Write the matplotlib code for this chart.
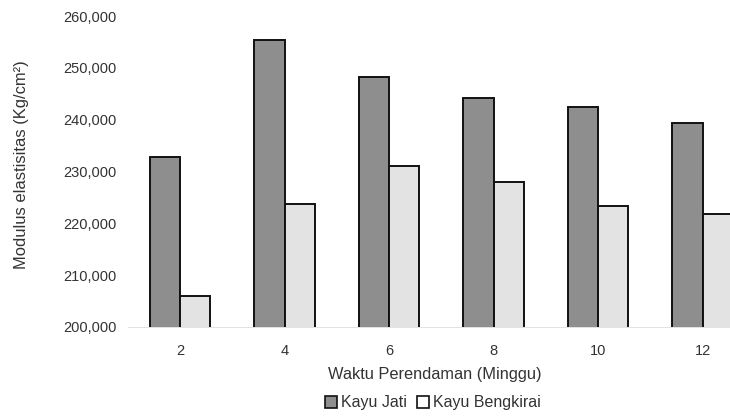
import matplotlib
matplotlib.use("Agg")
import matplotlib.pyplot as plt
import numpy as np
from matplotlib.patches import Patch

plt.rcParams['font.family'] = ['Liberation Sans', 'DejaVu Sans']

weeks = ["2", "4", "6", "8", "10", "12"]
kayu_jati = [232800, 255400, 248300, 244100, 242500, 239300]
kayu_bengkirai = [206000, 223700, 231100, 228000, 223400, 221800]
y_ticks = [200000, 210000, 220000, 230000, 240000, 250000, 260000]

fig = plt.figure(figsize=(7.3, 4.2), dpi=100)
ax = fig.add_axes([127.7/730, (420-327)/420, (755-127.7)/730, (327-16)/420])

x = np.arange(len(weeks))
w = 0.29
c_jati = "#8e8e8e"
c_beng = "#e3e3e3"
ax.bar(x - w/2, kayu_jati, width=w, color=c_jati, edgecolor="#111111", linewidth=1.4, label="Kayu Jati")
ax.bar(x + w/2, kayu_bengkirai, width=w, color=c_beng, edgecolor="#111111", linewidth=1.4, label="Kayu Bengkirai")

ax.set_xlim(-0.5, 5.5)
ax.set_ylim(200000, 260000)
ax.set_yticks(y_ticks)
ax.set_yticklabels([f"{v:,}" for v in y_ticks])
ax.set_xticks(x)
ax.set_xticklabels(weeks)
for s in ["top", "right", "left"]:
    ax.spines[s].set_visible(False)
ax.spines["bottom"].set_color("#dddddd")
ax.spines["bottom"].set_linewidth(0.6)
ax.tick_params(axis="both", length=0, labelsize=10.5, colors="#333333")
ax.tick_params(axis="y", pad=8)
ax.tick_params(axis="x", pad=12)

fig.text(22/730, 1-165/420, "Modulus elastisitas (Kg/cm²)", rotation=90,
         ha="center", va="center", fontsize=11.9, color="#333333")
fig.text(435/730, 1-375/420, "Waktu Perendaman (Minggu)",
         ha="center", va="center", fontsize=11.8, color="#333333")

handles = [Patch(facecolor=c_jati, edgecolor="#111111", linewidth=1.2),
           Patch(facecolor="white", edgecolor="#111111", linewidth=1.2)]
fig.legend(handles, ["Kayu Jati", "Kayu Bengkirai"], loc="center",
           bbox_to_anchor=(433/730, 1-403/420), ncol=2, frameon=False,
           fontsize=11.5, handlelength=0.75, handleheight=0.75,
           handletextpad=0.25, columnspacing=0.6, labelcolor="#333333",
           borderpad=0.1)

fig.savefig("out.png", dpi=100)
